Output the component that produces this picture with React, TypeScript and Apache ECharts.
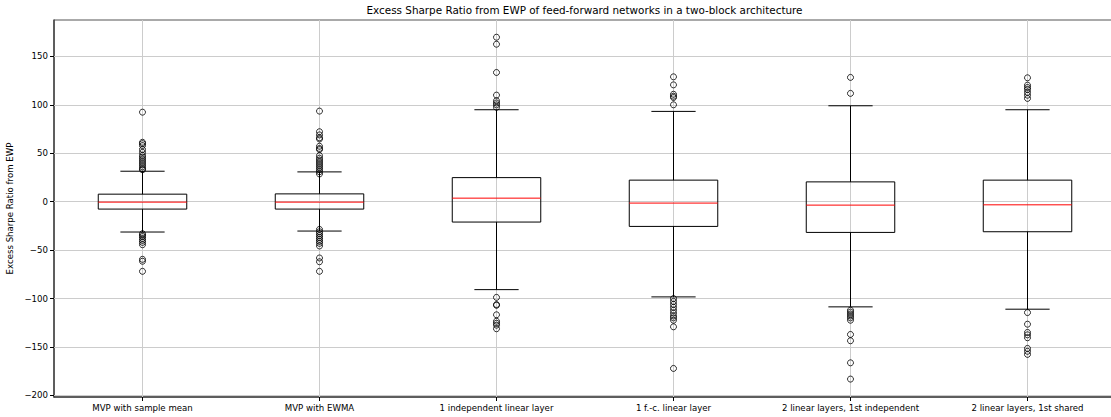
import React, { useEffect, useRef } from "react";
import * as echarts from "echarts";

// Model variants compared against the equally weighted portfolio
const categories = [
  "MVP with sample mean",
  "MVP with EWMA",
  "1 independent linear layer",
  "1 f.-c. linear layer",
  "2 linear layers, 1st independent",
  "2 linear layers, 1st shared",
];

// Box statistics per model (whisker ends, quartiles, median)
const whiskerLow = [-31.3, -30.3, -90.8, -98.3, -108.6, -111];
const q1 = [-7.6, -7.6, -21, -25.5, -31.7, -31];
const median = [-0.4, -0.4, 3.7, -1.4, -3.5, -3.2];
const q3 = [7.8, 8.1, 24.9, 22.3, 20.5, 22.3];
const whiskerHigh = [31.5, 30.8, 95, 93.3, 99.1, 95];

// Points beyond the whiskers
const outliers: number[][] = [
  [92.5, 61.4, 60, 58, 54, 51, 48, 46, 44, 42, 40, 38, 36, 34, 33,
    -33, -34.5, -36, -38, -40, -42, -44.4, -59.5, -61.5, -71.9],
  [93.6, 72.3, 69, 66, 64.8, 57.3, 55, 53.8, 47.6, 45, 43, 41, 39, 37, 35, 33, 31, 28.7,
    -28.6, -31, -33, -35, -37, -39, -41, -43, -45.7, -58.1, -62, -71.9],
  [169.9, 162.7, 133.5, 110.1, 104.3, 102, 100, 97.5,
    -98.8, -106.2, -107, -116.8, -123.4, -125.5, -127.5, -131.2],
  [129, 120.7, 111, 109, 107.6, 100.1,
    -100, -103, -106, -109, -112, -115, -118, -120, -122.4, -129.2, -172.2],
  [128.4, 111.9,
    -112, -114, -116, -118, -120, -122.4, -137.1, -143.6, -166.4, -183.2],
  [128, 120.4, 118, 116, 113, 110, 106.7,
    -114.5, -126.5, -135, -137.5, -140.5, -151.5, -154.5, -157.7],
];

const yTicks = [-200, -150, -100, -50, 0, 50, 100, 150];
const yMin = -201.7;
const yMax = 187.7;

const FONT = "DejaVu Sans";
const fmt = (v: number) => (v < 0 ? "\u2212" + Math.abs(v) : String(v));

export default function App() {
  const ref = useRef<HTMLDivElement>(null);

  useEffect(() => {
    if (!ref.current) return;
    const chart = echarts.init(ref.current, undefined, { renderer: "svg" });

    const boxData = categories.map((_, i) => [
      i,
      whiskerLow[i],
      q1[i],
      median[i],
      q3[i],
      whiskerHigh[i],
    ]);
    const outlierData: number[][] = [];
    outliers.forEach((vals, i) => vals.forEach((v) => outlierData.push([i, v])));

    chart.setOption({
      animation: false,
      backgroundColor: "#ffffff",
      title: {
        text: "Excess Sharpe Ratio from EWP of feed-forward networks in a two-block architecture",
        left: 584.5,
        textAlign: "center",
        top: 5,
        padding: 0,
        textStyle: { fontFamily: FONT, fontSize: 10.4, fontWeight: "normal", color: "#000" },
      },
      grid: {
        left: 54,
        top: 20,
        width: 1062,
        height: 377,
        outerBoundsMode: "none",
        containLabel: false,
        show: true,
        borderColor: "#555",
        borderWidth: 1,
        backgroundColor: "transparent",
      },
      xAxis: {
        type: "category",
        data: categories,
        boundaryGap: true,
        axisLine: { show: true, onZero: false, lineStyle: { color: "#444", width: 1.5 } },
        axisTick: { show: true, alignWithLabel: true, length: 4, lineStyle: { color: "#000" } },
        axisLabel: { fontFamily: FONT, fontSize: 8.6, color: "#000", margin: 6, interval: 0 },
        splitLine: { show: false },
      },
      yAxis: {
        type: "value",
        min: yMin,
        max: yMax,
        splitNumber: 8,
        name: "Excess Sharpe Ratio from EWP",
        nameLocation: "middle",
        nameGap: 40,
        nameMoveOverlap: false,
        nameTextStyle: { fontFamily: FONT, fontSize: 8.6, color: "#000" },
        axisLine: { show: true, onZero: false, lineStyle: { color: "#444", width: 1.5 } },
        axisTick: { show: true, length: 4, customValues: yTicks, lineStyle: { color: "#000" } },
        axisLabel: {
          fontFamily: FONT,
          fontSize: 8.6,
          color: "#000",
          margin: 6,
          customValues: yTicks,
          formatter: (v: number) => fmt(v),
        },
        splitLine: { show: false },
      },
      series: [
        {
          // grid lines at the tick positions, kept beneath the boxes
          type: "scatter",
          data: [],
          z: 1,
          silent: true,
          markLine: {
            z: 1,
            silent: true,
            symbol: "none",
            animation: false,
            label: { show: false },
            lineStyle: { color: "#cccccc", width: 1, type: "solid" },
            data: [
              ...categories.map((c) => ({ xAxis: c })),
              ...yTicks.map((t) => ({ yAxis: t })),
            ],
          },
        },
        {
          type: "custom",
          z: 10,
          data: boxData,
          encode: { x: 0, y: [1, 2, 3, 4, 5] },
          renderItem: (params: any, api: any) => {
            const idx = api.value(0);
            const lo = api.coord([idx, api.value(1)]);
            const b1 = api.coord([idx, api.value(2)]);
            const md = api.coord([idx, api.value(3)]);
            const b3 = api.coord([idx, api.value(4)]);
            const hi = api.coord([idx, api.value(5)]);
            const band = api.size([1, 0])[0];
            const bw = band * 0.5;
            const cw = bw / 2;
            const cx = lo[0];
            const ink = { stroke: "#000", lineWidth: 1, fill: "none" };
            return {
              type: "group",
              children: [
                { type: "line", shape: { x1: cx, y1: b3[1], x2: cx, y2: hi[1] }, style: ink },
                { type: "line", shape: { x1: cx, y1: b1[1], x2: cx, y2: lo[1] }, style: ink },
                { type: "line", shape: { x1: cx - cw / 2, y1: hi[1], x2: cx + cw / 2, y2: hi[1] }, style: ink },
                { type: "line", shape: { x1: cx - cw / 2, y1: lo[1], x2: cx + cw / 2, y2: lo[1] }, style: ink },
                {
                  type: "rect",
                  shape: { x: cx - bw / 2, y: b3[1], width: bw, height: b1[1] - b3[1] },
                  style: { stroke: "#000", lineWidth: 1, fill: "none" },
                },
                {
                  type: "line",
                  shape: { x1: cx - bw / 2, y1: md[1], x2: cx + bw / 2, y2: md[1] },
                  style: { stroke: "#ff0000", lineWidth: 1 },
                },
              ],
            };
          },
        },
        {
          type: "scatter",
          z: 11,
          data: outlierData,
          symbol: "circle",
          symbolSize: 6,
          itemStyle: { color: "rgba(0,0,0,0)", borderColor: "#000", borderWidth: 1 },
        },
      ],
    });

    return () => chart.dispose();
  }, []);

  return (
    <div
      ref={ref}
      style={{ position: "absolute", left: 0, top: 0, width: 1111, height: 417, background: "#fff" }}
    />
  );
}
